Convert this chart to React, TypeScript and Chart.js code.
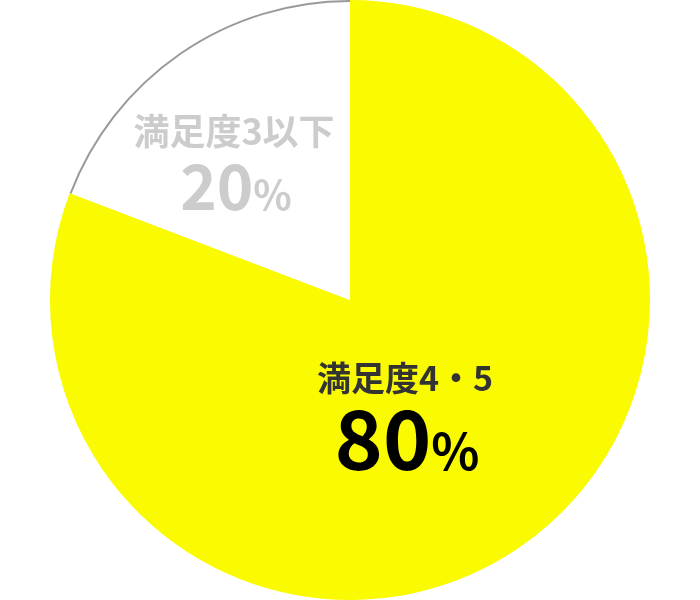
import { useEffect, useRef } from "react"
import { Chart, registerables } from "chart.js"

Chart.register(...registerables)

const labels = ["満足度4・5", "満足度3以下"]
// slice sizes as drawn (the boundary sits a little past 80%)
const values = [80.8, 19.2]
// the rounded figures printed on the slices
const shownValues = ["80", "20"]

const sliceColors = ["#fafa00", "#ffffff"]
const labelColors = ["#333333", "#cccccc"]
const valueColors = ["#000000", "#cccccc"]
// text placement relative to the pie centre: [labelX, labelY, valueX, valueBaseline]
const textOffsets = [
  [55, 78, 57, 170],
  [-116, -169, -114, -90],
]
const labelFont = [34, 36]
const valueFont = [82, 62]
const percentFont = [50, 40]
const FONT = '"Noto Sans CJK JP", "Noto Sans", sans-serif'

const pieText = {
  id: "pieText",
  afterDatasetsDraw(chart: Chart) {
    const ctx = chart.ctx
    const meta = chart.getDatasetMeta(0)
    ctx.save()

    // grey rim on the white slice only
    const white: any = meta.data[1]
    const p = white.getProps(["x", "y", "startAngle", "endAngle", "outerRadius"], true)
    ctx.beginPath()
    ctx.arc(p.x, p.y, p.outerRadius - 1, p.startAngle, p.endAngle)
    ctx.strokeStyle = "#999999"
    ctx.lineWidth = 2
    ctx.stroke()

    const cx = p.x
    const cy = p.y
    labels.forEach((label, i) => {
      const [lx, ly, vx, vy] = textOffsets[i]
      ctx.textAlign = "center"
      ctx.textBaseline = "middle"
      ctx.font = `bold ${labelFont[i]}px ${FONT}`
      ctx.fillStyle = labelColors[i]
      ctx.fillText(label, cx + lx, cy + ly)

      const num = shownValues[i]
      ctx.textBaseline = "alphabetic"
      ctx.font = `bold ${valueFont[i]}px ${FONT}`
      const w1 = ctx.measureText(num).width
      ctx.font = `bold ${percentFont[i]}px ${FONT}`
      const w2 = ctx.measureText("%").width
      const left = cx + vx - (w1 + w2) / 2
      ctx.textAlign = "left"
      ctx.fillStyle = valueColors[i]
      ctx.font = `bold ${valueFont[i]}px ${FONT}`
      ctx.fillText(num, left, cy + vy)
      ctx.font = `bold ${percentFont[i]}px ${FONT}`
      ctx.fillText("%", left + w1, cy + vy)
    })
    ctx.restore()
  },
}

export default function App() {
  const chartRef = useRef<HTMLCanvasElement>(null)
  const chartInstance = useRef<Chart | null>(null)

  useEffect(() => {
    document.body.style.margin = "0"
    if (!chartRef.current) return
    const ctx = chartRef.current.getContext("2d")
    if (!ctx) return

    if (chartInstance.current) {
      chartInstance.current.destroy()
    }

    chartInstance.current = new Chart(ctx, {
      type: "pie",
      data: {
        labels,
        datasets: [
          {
            data: values,
            backgroundColor: sliceColors,
            borderWidth: 0,
          },
        ],
      },
      options: {
        responsive: false,
        animation: false,
        events: [],
        layout: { padding: 0 },
        plugins: {
          legend: { display: false },
          tooltip: { enabled: false },
        },
      },
      plugins: [pieText],
    })

    return () => {
      if (chartInstance.current) {
        chartInstance.current.destroy()
        chartInstance.current = null
      }
    }
  }, [])

  return (
    <div style={{ width: 700, height: 600 }}>
      <canvas ref={chartRef} width={700} height={600}></canvas>
    </div>
  )
}
